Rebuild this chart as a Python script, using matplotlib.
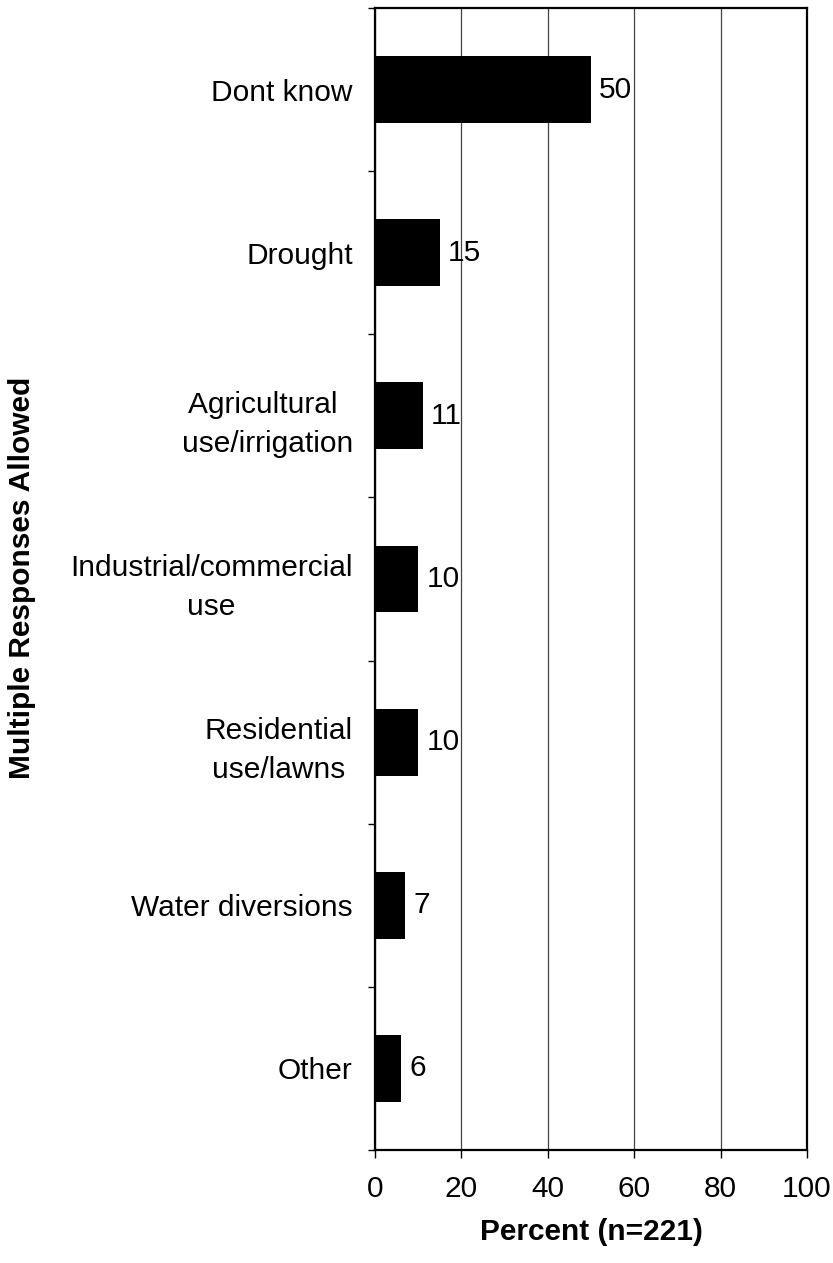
import matplotlib.pyplot as plt
import numpy as np

plt.rcParams['font.family'] = ['Liberation Sans', 'DejaVu Sans']

# Reasons given (multiple responses allowed)
categories = ['Dont know', 'Drought', 'Agricultural \nuse/irrigation',
              'Industrial/commercial\nuse', 'Residential\nuse/lawns',
              'Water diversions', 'Other']
percent = [50, 15, 11, 10, 10, 7, 6]

fs = 21.5

fig = plt.figure(figsize=(8.33, 12.63), dpi=100)
ax = fig.add_axes([0.4502, 0.0895, 0.5186, 0.9042])

y = np.arange(len(categories))
ax.barh(y, percent, height=0.41, color='black', zorder=3)

for yi, v in zip(y, percent):
    ax.text(v + 1.9, yi, str(v), va='center', ha='left', fontsize=fs, zorder=4)

ax.set_xlim(0, 100)
ax.set_ylim(len(categories) - 0.5, -0.5)
ax.set_xticks(range(0, 101, 20))
ax.tick_params(axis='x', labelsize=fs, length=6, width=1, pad=12, direction='out')

# category labels in the middle, ticks on the boundaries
ax.set_yticks(y)
ax.set_yticklabels(categories, fontsize=fs, linespacing=1.5, multialignment='center')
ax.tick_params(axis='y', which='major', length=0, pad=16)
ax.set_yticks(np.arange(-0.5, len(categories), 1), minor=True)
ax.tick_params(axis='y', which='minor', length=5, width=1, direction='out')

ax.xaxis.grid(True, color='#444444', linewidth=0.9, zorder=0)
for s in ax.spines.values():
    s.set_linewidth(1.6)
    s.set_color('black')

ax.set_xlabel('Percent (n=221)', fontsize=fs, fontweight='bold', labelpad=11)
fig.text(0.027, 0.5424, 'Multiple Responses Allowed', rotation=90, fontsize=fs,
         fontweight='bold', ha='center', va='center')

fig.savefig('out.png', dpi=100)
